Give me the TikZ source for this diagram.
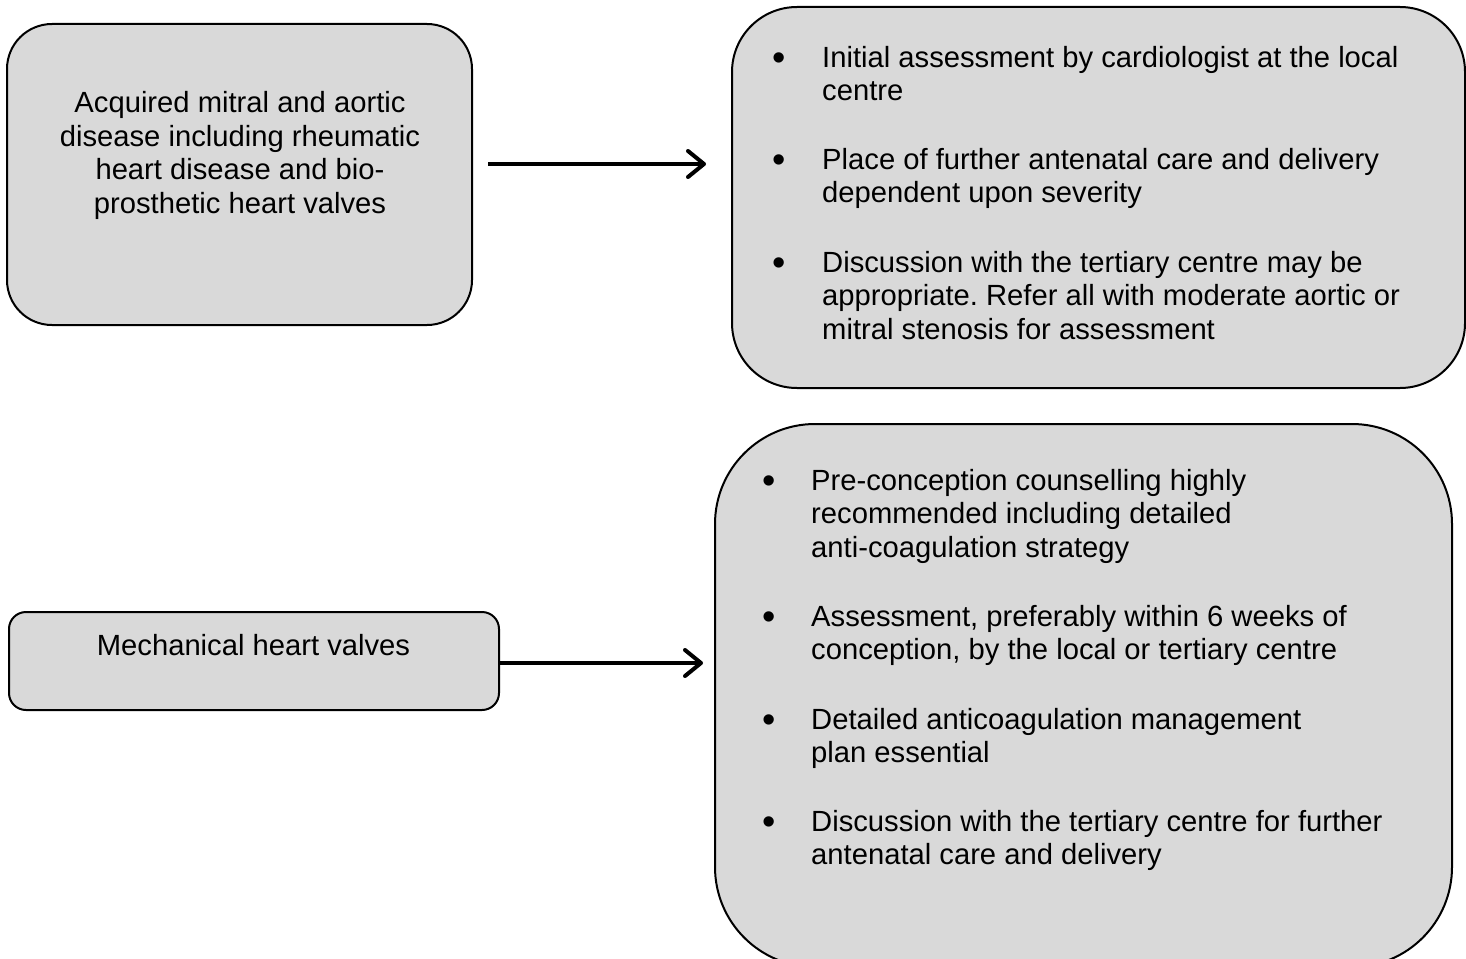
\documentclass[tikz,border=0pt]{standalone}
\usepackage{fontspec}
\setmainfont{Liberation Sans}
\usetikzlibrary{arrows.meta}
\definecolor{boxfill}{HTML}{D9D9D9}
\frenchspacing
% a slightly enlarged bullet, centred at the x-height middle
\newcommand{\itembul}{\raisebox{-3.5pt}{\scalebox{1.3}{\textbullet}}}
\tikzset{
  panel/.style={draw=black, line width=2pt, fill=boxfill, inner sep=0pt},
  txt/.style={inner sep=0pt, font=\fontsize{29.2}{33.5}\selectfont},
  conn/.style={line width=4pt, -{Straight Barb[length=16pt,width=26pt,round]}},
}
\begin{document}
\begin{tikzpicture}[x=1pt,y=-1pt]
\useasboundingbox (0,0) rectangle (1466,958);
\clip (0,0) rectangle (1466,958);

% condition boxes on the left
\node[panel, minimum width=465, minimum height=301, rounded corners=45] (acq) at (239.5,174.5) {};
\node[panel, minimum width=490, minimum height=98, rounded corners=17] (mech) at (254,661) {};

% management boxes on the right
\node[panel, minimum width=733, minimum height=381, rounded corners=65] (acqplan) at (1098.5,197.5) {};
\node[panel, minimum width=737, minimum height=543, rounded corners=100] (mechplan) at (1083.5,695.5) {};

% left box texts
\node[txt, anchor=base] (acqtext) at (240,112.5) {\begin{tabular}[t]{@{}c@{}}Acquired mitral and aortic\\disease including rheumatic\\heart disease and bio-\\prosthetic heart valves\end{tabular}};
\node[txt, anchor=base] (mechtext) at (253.5,655) {Mechanical heart valves};

% bullet lists, upper box
\node[txt, anchor=base west] (ia) at (772,67) {\begin{tabular}[t]{@{}p{50pt}@{}l@{}}\itembul & Initial assessment by cardiologist at the local\\ & centre\end{tabular}};
\node[txt, anchor=base west] (ib) at (772,169) {\begin{tabular}[t]{@{}p{50pt}@{}l@{}}\itembul & Place of further antenatal care and delivery\\ & dependent upon severity\end{tabular}};
\node[txt, anchor=base west] (ic) at (772,272) {\begin{tabular}[t]{@{}p{50pt}@{}l@{}}\itembul & Discussion with the tertiary centre may be\\ & appropriate. Refer all with moderate aortic or\\ & mitral stenosis for assessment\end{tabular}};

% bullet lists, lower box
\node[txt, anchor=base west] (ma) at (762,490) {\begin{tabular}[t]{@{}p{49pt}@{}l@{}}\itembul & Pre-conception counselling highly\\ & recommended including detailed\\ & anti-coagulation strategy\end{tabular}};
\node[txt, anchor=base west] (mb) at (762,626) {\begin{tabular}[t]{@{}p{49pt}@{}l@{}}\itembul & Assessment, preferably within 6 weeks of\\ & conception, by the local or tertiary centre\end{tabular}};
\node[txt, anchor=base west] (mc) at (762,729) {\begin{tabular}[t]{@{}p{49pt}@{}l@{}}\itembul & Detailed anticoagulation management\\ & plan essential\end{tabular}};
\node[txt, anchor=base west] (md) at (762,831) {\begin{tabular}[t]{@{}p{49pt}@{}l@{}}\itembul & Discussion with the tertiary centre for further\\ & antenatal care and delivery\end{tabular}};

% connectors
\coordinate (a1s) at (488,164);
\coordinate (a1e) at (706,164);
\draw[conn] (a1s) -- (a1e);
\coordinate (a2e) at (703,663);
\draw[conn] (mech.east |- a2e) -- (a2e);
\end{tikzpicture}
\end{document}
